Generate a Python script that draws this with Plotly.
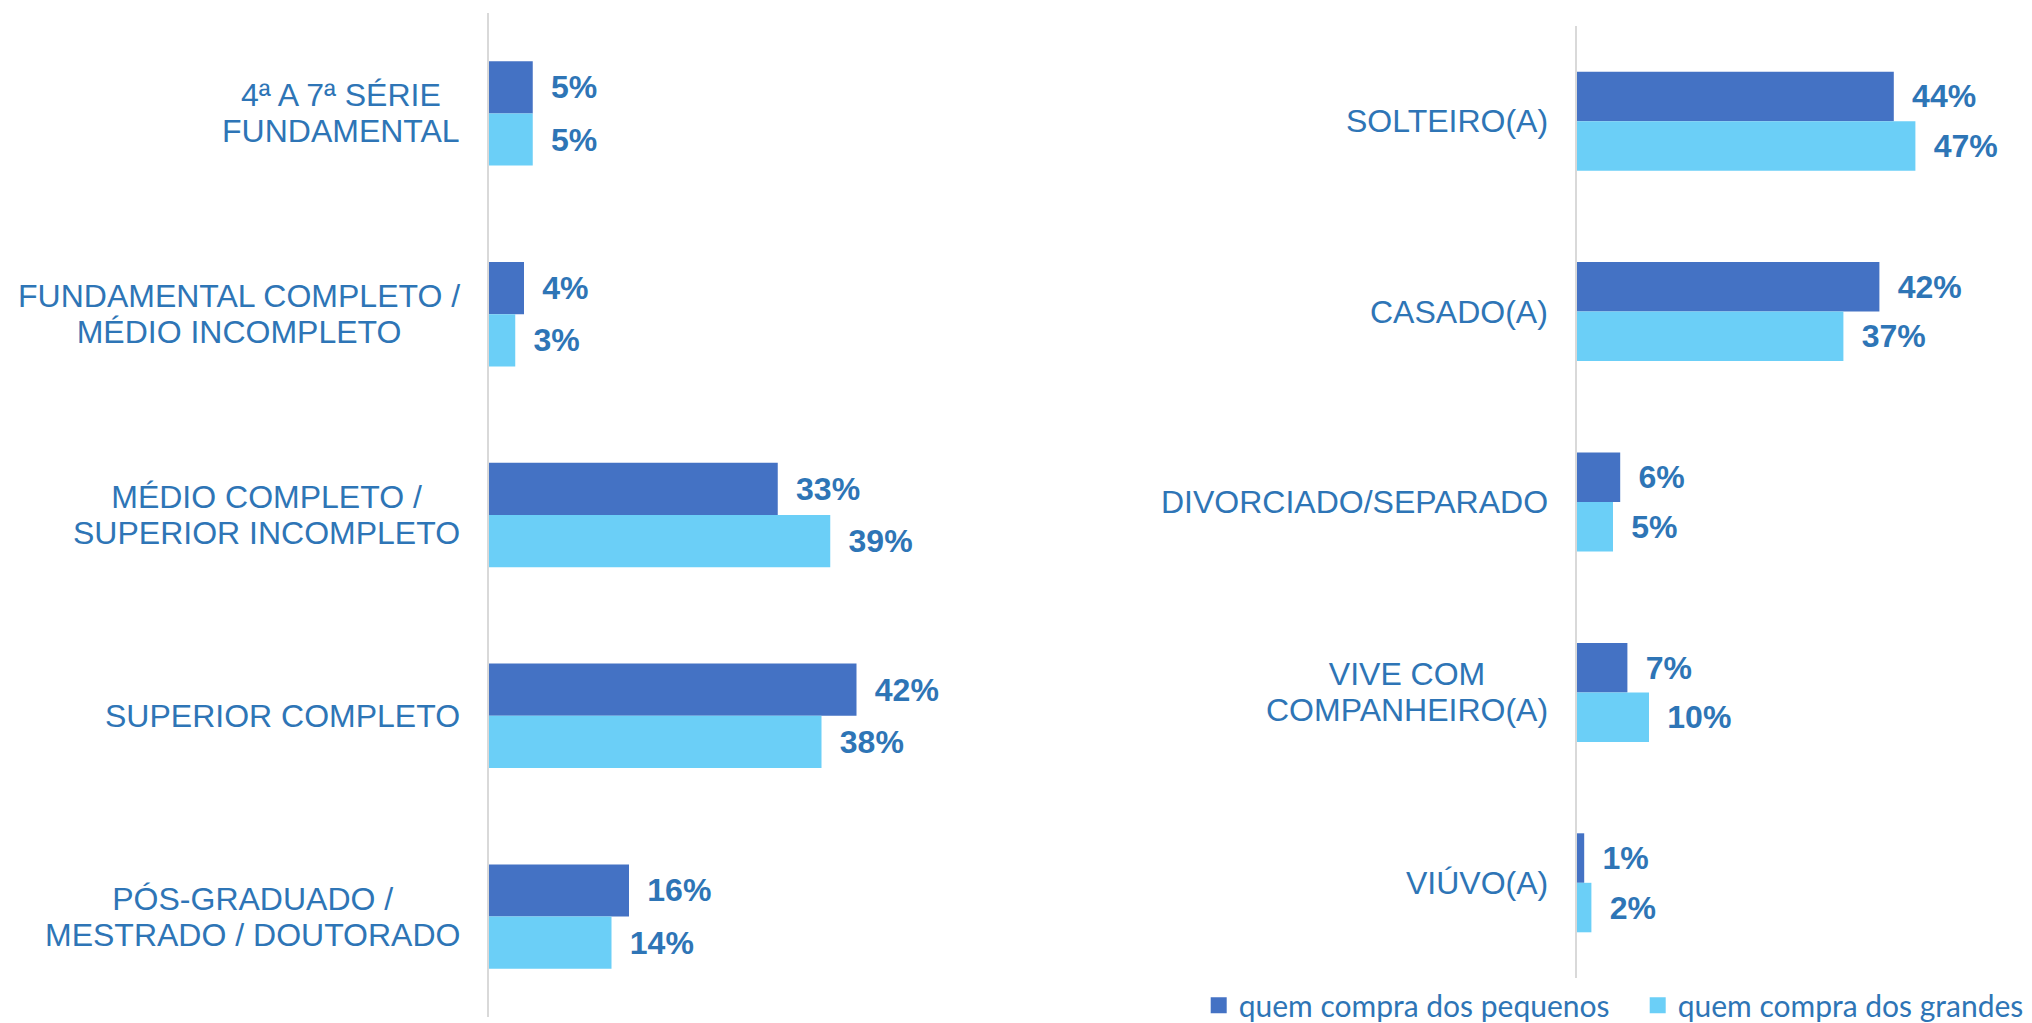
import plotly.graph_objects as go

# ---- data ----
edu_categories = [
    "4ª A 7ª SÉRIE<br>FUNDAMENTAL",
    "FUNDAMENTAL COMPLETO /<br>MÉDIO INCOMPLETO",
    "MÉDIO COMPLETO /<br>SUPERIOR INCOMPLETO",
    "SUPERIOR COMPLETO",
    "PÓS-GRADUADO /<br>MESTRADO / DOUTORADO",
]
edu_pequenos = [5, 4, 33, 42, 16]
edu_grandes = [5, 3, 39, 38, 14]

civil_categories = [
    "SOLTEIRO(A)",
    "CASADO(A)",
    "DIVORCIADO/SEPARADO",
    "VIVE COM<br>COMPANHEIRO(A)",
    "VIÚVO(A)",
]
civil_pequenos = [44, 42, 6, 7, 1]
civil_grandes = [47, 37, 5, 10, 2]

series_names = ["quem compra dos pequenos", "quem compra dos grandes"]

# ---- style ----
W, H = 2032, 1023
DARK = "#4472C4"
LIGHT = "#6BCFF7"
TXT = "#2E75B6"
AX = "#D9D9D9"
FONT = "Liberation Sans, Arial, sans-serif"
COLORS = [DARK, LIGHT]

fig = go.Figure()


def label_html(c):
    return "<br>".join(f"<span style='font-size:32px'>{ln}</span>" for ln in c.split("<br>"))


def add_panel(cats, v1, v2, xa, ya):
    for vals, color, name in ((v1, DARK, series_names[0]), (v2, LIGHT, series_names[1])):
        fig.add_trace(go.Bar(
            y=cats, x=vals, orientation="h", name=name,
            marker=dict(color=color, line=dict(width=0)),
            text=["\u00a0\u2009" + f"{v}%" for v in vals],
            textposition="outside", cliponaxis=False, constraintext="none",
            textfont=dict(family=FONT, size=32, color=TXT, weight="bold"),
            xaxis=xa, yaxis=ya, showlegend=False, legendgroup=name,
            hoverinfo="skip",
        ))
    for c in cats:
        fig.add_annotation(
            x=0, y=c, xref=xa, yref=ya, xanchor="right", yanchor="middle",
            xshift=-27, text=label_html(c), showarrow=False, align="center",
            font=dict(family=FONT, size=27.7, color=TXT),
        )


add_panel(edu_categories, edu_pequenos, edu_grandes, "x", "y")
add_panel(civil_categories, civil_pequenos, civil_grandes, "x2", "y2")

# legend entries (square markers)
for name, color in zip(series_names, COLORS):
    fig.add_trace(go.Scatter(
        x=[None], y=[None], mode="markers", name=name, legendgroup=name,
        marker=dict(symbol="square", size=17, color=color),
        xaxis="x", yaxis="y", showlegend=True, hoverinfo="skip",
    ))

left_x0 = 489 / W
left_x1 = (489 + 70 * 8.75) / W
right_x0 = 1577 / W
right_x1 = (1577 + 60 * 7.2) / W

xcommon = dict(showgrid=False, zeroline=False, showticklabels=False, showline=False)
ycommon = dict(type="category", autorange="reversed", showgrid=False, zeroline=False,
               showticklabels=False, showline=True, linecolor=AX, linewidth=2, ticks="")

fig.update_layout(
    width=W, height=H,
    margin=dict(l=0, r=0, t=0, b=0, autoexpand=False),
    paper_bgcolor="white", plot_bgcolor="white",
    barmode="group", bargap=0.48, bargroupgap=0,
    xaxis=dict(domain=[left_x0, left_x1], range=[0, 70], anchor="y", **xcommon),
    yaxis=dict(domain=[1 - 1017 / H, 1 - 13 / H], anchor="x", **ycommon),
    xaxis2=dict(domain=[right_x0, right_x1], range=[0, 60], anchor="y2", **xcommon),
    yaxis2=dict(domain=[1 - 978 / H, 1 - 26 / H], anchor="x2", **ycommon),
    legend=dict(orientation="h", x=1.022, xanchor="right", y=-0.008, yanchor="bottom",
                font=dict(family="Lato, Carlito, sans-serif", size=30, color=TXT),
                bgcolor="rgba(0,0,0,0)", traceorder="normal",
                itemwidth=30, entrywidth=394, entrywidthmode="pixels"),
    showlegend=True,
)

fig.write_html(
    "out.html",
    config={"displayModeBar": False},
    post_script="document.body.style.margin='0';document.body.style.overflow='hidden';",
)
